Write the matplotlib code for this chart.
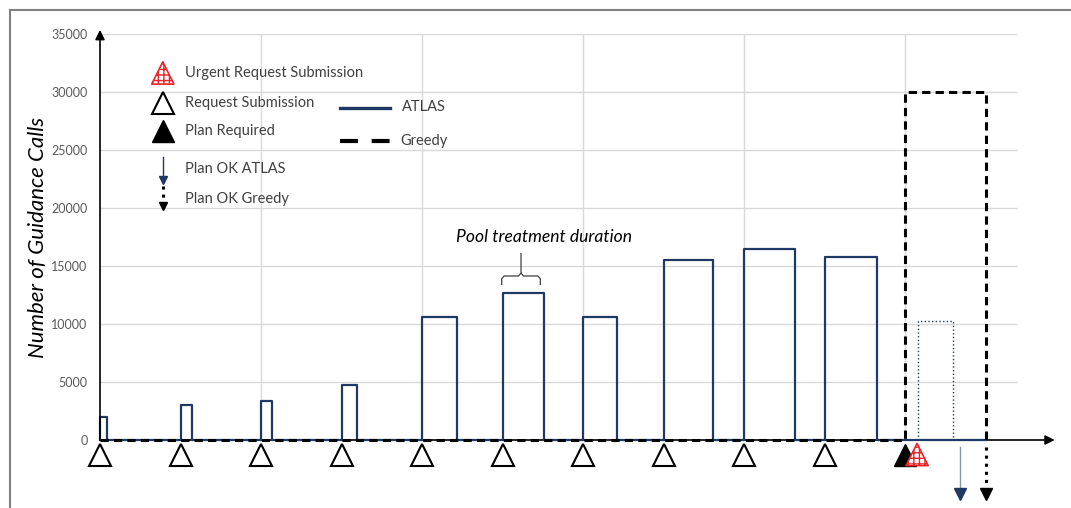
import matplotlib

matplotlib.use("Agg")
import matplotlib.pyplot as plt
from matplotlib.lines import Line2D
from matplotlib.path import Path
from matplotlib.patches import PathPatch

plt.rcParams["font.family"] = ["Lato", "DejaVu Sans"]

# --- data (x in "request periods", y in guidance calls) ---
submit_times = [0, 1, 2, 3, 4, 5, 6, 7, 8, 9]
atlas_duration = [0.09, 0.14, 0.14, 0.19, 0.44, 0.51, 0.42, 0.62, 0.63, 0.65]
atlas_calls = [2000, 3000, 3400, 4700, 10600, 12700, 10600, 15500, 16500, 15800]
plan_required = 10.0
urgent_submit = 10.15
urgent_atlas_start, urgent_atlas_dur, urgent_atlas_calls = 10.16, 0.44, 10300
greedy_start, greedy_dur, greedy_calls = 10.0, 1.0, 30000
plan_ok_atlas = 10.68
plan_ok_greedy = 11.0
yticks = [0, 5000, 10000, 15000, 20000, 25000, 30000, 35000]
vgrid = [2, 4, 6, 8, 10]

NAVY = "#1F3864"
GRID = "#D9D9D9"
W, H = 1071, 508
fig = plt.figure(figsize=(W / 100, H / 100), dpi=100)
ax = fig.add_axes([100 / W, 68 / H, 954 / W, 406 / H])
ax.set_xlim(0, 954 / 80.5)
ax.set_ylim(0, 35000)
for s in ax.spines.values():
    s.set_visible(False)
ax.set_xticks([])
ax.set_yticks(yticks)
ax.set_yticklabels([str(v) for v in yticks], fontsize=9, color="#595959")
ax.tick_params(axis="y", length=0, pad=9)
ax.set_ylabel("Number of Guidance Calls", fontsize=16, style="italic")
ax.yaxis.set_label_coords(-0.054, 0.5)

# grid
ax.hlines(yticks[1:], 0, 11.39, color=GRID, lw=1, zorder=0)
ax.vlines(vgrid, 0, 35000, color=GRID, lw=1, zorder=0)

# ATLAS step line
xs, ys = [], []
for t, d, c in zip(submit_times, atlas_duration, atlas_calls):
    xs += [t, t, t + d, t + d]
    ys += [0, c, c, 0]
xs.append(greedy_start + greedy_dur)
ys.append(0)
ax.plot(xs, ys, color=NAVY, lw=1.6, zorder=3, clip_on=False)
# urgent ATLAS (dotted)
ux = [urgent_atlas_start, urgent_atlas_start, urgent_atlas_start + urgent_atlas_dur,
      urgent_atlas_start + urgent_atlas_dur]
ax.plot(ux, [0, urgent_atlas_calls, urgent_atlas_calls, 0], color=NAVY, lw=1, ls=":", zorder=3)
# Greedy dashed
gx = [0, greedy_start, greedy_start, greedy_start + greedy_dur, greedy_start + greedy_dur]
gy = [0, 0, greedy_calls, greedy_calls, 0]
ax.plot(gx, gy, color="black", lw=2.2, dashes=(2.7, 1.7), zorder=4, clip_on=False)

# axes arrows
arr = dict(arrowstyle="-|>", color="black", lw=1.2, mutation_scale=14, shrinkA=0, shrinkB=0)
ax.annotate("", xy=(0, 35350), xytext=(0, 0), arrowprops=arr, annotation_clip=False, zorder=5)
ax.annotate("", xy=(11.86, 0), xytext=(0, 0), arrowprops=arr, annotation_clip=False, zorder=2)

# event markers below the axis
ty = -1250
ax.plot(submit_times, [ty] * len(submit_times), ls="none", marker="^", ms=16,
        mfc="white", mec="black", mew=1.5, clip_on=False, zorder=6)
ax.plot([plan_required], [ty], ls="none", marker="^", ms=16, mfc="black", mec="black",
        clip_on=False, zorder=6)
ax.scatter([urgent_submit], [ty], marker="^", s=16 ** 2, facecolor="white", edgecolor="#E8262B",
           hatch="+++", lw=1.2, clip_on=False, zorder=7)


def down_arrow(x, y0, y1, color, ls, lw, line_color=None, head=8):
    ax.plot([x, x], [y0, y1 + 500], color=line_color or color, ls=ls, lw=lw,
            clip_on=False, zorder=6)
    ax.plot([x], [y1 + 300], marker="v", ms=head, color=color, ls="none", clip_on=False, zorder=6)


down_arrow(plan_ok_atlas, -600, -4950, NAVY, "-", 1, "#8497B0")
down_arrow(plan_ok_greedy, -600, -4950, "black", ":", 2.2)

# legend (drawn by hand)
lx, tx = 0.78, 1.06
ax.scatter([lx], [31640], marker="^", s=16 ** 2, facecolor="white", edgecolor="#E8262B",
           hatch="+++", lw=1.2, zorder=6)
ax.plot([lx], [29050], marker="^", ms=16, mfc="white", mec="black", mew=1.5)
ax.plot([lx], [26640], marker="^", ms=16, mfc="black", mec="black")
down_arrow(lx, 24400, 22150, NAVY, "-", 1, head=6)
down_arrow(lx, 21900, 19830, "black", ":", 2.2, head=6)
legend_text = ["Urgent Request Submission", "Request Submission", "Plan Required",
               "Plan OK ATLAS", "Plan OK Greedy"]
for txt, y in zip(legend_text, [31640, 29050, 26640, 23360, 20780]):
    ax.text(tx, y, txt, fontsize=10.5, color="#404040", va="center")
ax.plot([2.98, 3.6], [28620, 28620], color=NAVY, lw=2.4)
ax.text(3.75, 28700, "ATLAS", fontsize=10.5, color="#404040", va="center")
ax.plot([2.98, 3.6], [25780, 25780], color="black", lw=3, dashes=(4.3, 3.3))
ax.text(3.73, 25780, "Greedy", fontsize=10.5, color="#404040", va="center")

# pool treatment annotation
ax.text(5.52, 17500, "Pool treatment duration", fontsize=12.6, style="italic", ha="center", va="center")
bl, br, bm = 4.99, 5.47, 5.23
verts = [(bl, 13360), (bl, 13900), (bl + 0.03, 14140), (bm - 0.03, 14140), (bm, 14400), (bm, 16120),
         (bm, 14400), (bm + 0.03, 14140), (br - 0.03, 14140), (br, 13900), (br, 13360)]
codes = [Path.MOVETO, Path.LINETO, Path.LINETO, Path.LINETO, Path.LINETO, Path.LINETO,
         Path.MOVETO, Path.LINETO, Path.LINETO, Path.LINETO, Path.LINETO]
ax.add_patch(PathPatch(Path(verts, codes), fill=False, color="#404040", lw=0.9))

# outer frame (partial, as in the original)
fig.add_artist(Line2D([10 / W, 1], [1 - 10 / H] * 2, color="#808080", lw=1.5))
fig.add_artist(Line2D([10 / W] * 2, [0, 1 - 10 / H], color="#808080", lw=1.5))

fig.savefig("out.png", dpi=100, facecolor="white")
